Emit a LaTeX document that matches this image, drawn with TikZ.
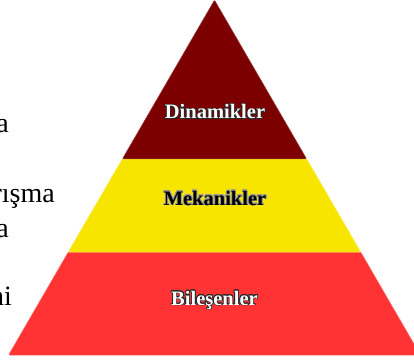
\documentclass[tikz,border=0pt]{standalone}
\usepackage{fontspec}
\usepackage{contour}
\setmainfont{Liberation Serif}
\contourlength{0.7pt}
\contournumber{16}
\definecolor{layerTop}{RGB}{124,0,0}
\definecolor{layerMid}{RGB}{247,229,0}
\definecolor{layerBase}{RGB}{255,51,51}
\definecolor{rimDark}{RGB}{40,40,40}
\definecolor{rimLight}{RGB}{150,150,150}
\tikzset{
  layer/.style={draw=#1!70!white, line width=0.5pt, fill=#1, rounded corners=1pt},
  label/.style={font=\fontsize{20.5}{24}\selectfont\bfseries, inner sep=0pt, anchor=base},
  sidetext/.style={font=\fontsize{28}{32}\selectfont, inner sep=0pt, anchor=base east, text=black},
}
\begin{document}
\begin{tikzpicture}[x=1pt, y=-1pt]
  \useasboundingbox (0,0) rectangle (414,363);
  \fill[white] (0,0) rectangle (414,363);

  % pyramid layers
  \draw[layer=layerBase] (68.3,252) -- (360.7,252) -- (420.4,355) -- (8.6,355) -- cycle;
  \draw[layer=layerMid]  (122.3,159) -- (306.7,159) -- (360.7,252) -- (68.3,252) -- cycle;
  \draw[layer=layerTop]  (214.5,0) -- (306.7,159) -- (122.3,159) -- cycle;

  % layer labels, each with a rim round its letters
  \node[label] (tTop)  at (215,119)   {\contour{rimDark}{\textcolor{white}{Dinamikler}}};
  \node[label] (tMid)  at (215,205)   {\contour{rimLight}{\textcolor{black}{Mekanikler}}};
  \node[label] (tBase) at (214.5,305) {\contour{rimDark}{\textcolor{white}{Bileşenler}}};

  % text running in from the left margin
  \node[sidetext] (s1) at (9,133) {a};
  \node[sidetext] (s2) at (55,202) {rışma};
  \node[sidetext] (s3) at (9,237) {a};
  \node[sidetext] (s4) at (12,305) {ni};
\end{tikzpicture}
\end{document}
